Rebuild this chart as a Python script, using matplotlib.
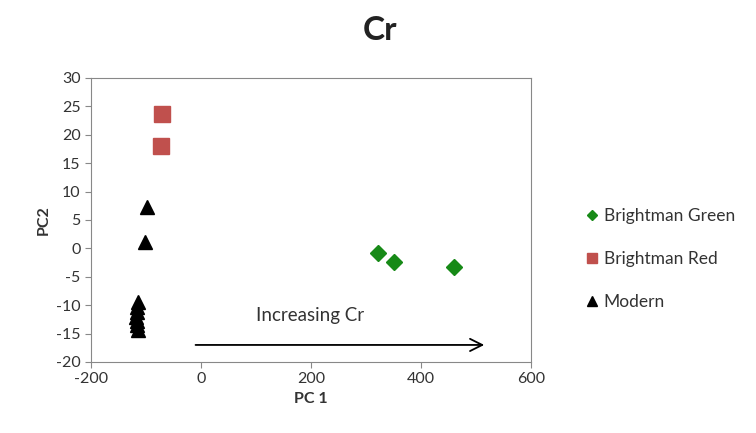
import matplotlib
matplotlib.use("Agg")
import matplotlib.pyplot as plt

plt.rcParams['font.family'] = ['Lato', 'DejaVu Sans']
plt.rcParams['axes.unicode_minus'] = False

# PCA scores for each group
green_pc1 = [321, 351, 460]
green_pc2 = [-0.9, -2.4, -3.2]

red_pc1 = [-71, -72]
red_pc2 = [23.6, 18.0]

modern_pc1 = [-99, -101, -115, -117, -116, -118, -116, -117, -115]
modern_pc2 = [7.3, 1.2, -9.5, -10.3, -11.2, -12.0, -12.8, -13.5, -14.3]

x_ticks = [-200, 0, 200, 400, 600]
y_ticks = list(range(-20, 31, 5))

fig = plt.figure(figsize=(7.56, 4.33), dpi=100)
ax = fig.add_axes([0.1204, 0.164, 0.582, 0.656])

ax.plot(green_pc1, green_pc2, 'D', color='#178a17', markersize=8,
        linestyle='none', label='Brightman Green')
ax.plot(red_pc1, red_pc2, 's', color='#c0504d', markersize=11,
        linestyle='none', label='Brightman Red')
ax.plot(modern_pc1, modern_pc2, '^', color='black', markersize=10,
        linestyle='none', label='Modern')

# arrow showing direction of increasing Cr
ax.annotate('', xy=(520, -17), xytext=(-15, -17),
            arrowprops=dict(arrowstyle='->', color='black', lw=1.3,
                            mutation_scale=22))
ax.text(100, -11.9, 'Increasing Cr', fontsize=13.5, color='#333333',
        va='center', ha='left')

ax.set_xlim(-200, 600)
ax.set_ylim(-20, 30)
ax.set_xticks(x_ticks)
ax.set_yticks(y_ticks)
ax.tick_params(labelsize=11.5, colors='#888888', labelcolor='#333333',
               length=4, direction='out')
for s in ax.spines.values():
    s.set_color('#888888')

ax.set_xlabel('PC 1', fontsize=11.5, fontweight='bold', color='#333333')
ax.set_ylabel('PC2', fontsize=11.5, fontweight='bold', color='#333333')
fig.text(0.503, 0.93, 'Cr', fontsize=24, fontweight='bold', ha='center',
         va='center', color='#222222')

fig.legend(loc='center left', bbox_to_anchor=(0.755, 0.402), frameon=False,
           fontsize=12.5, markerscale=0.7, labelspacing=1.55,
           handlelength=0.6, handletextpad=0.4, labelcolor='#333333')

fig.savefig('out.png', dpi=100)
